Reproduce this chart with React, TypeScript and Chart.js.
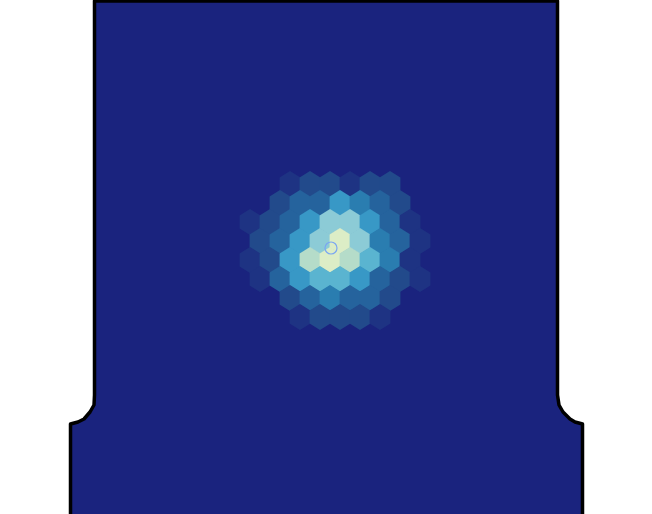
import React, { useEffect, useRef } from "react";
import { Chart, registerables } from "chart.js";

Chart.register(...registerables);

// Outline of the field shape (data units = pixels of the original figure)
const outlineX = [94.5, 557.5, 557.5, 559, 563, 570, 575, 582.5, 582.5, 70.5, 70.5, 78, 84, 90, 94, 94.5];
const outlineY = [1, 1, 395, 405, 412, 419, 422, 424, 530, 530, 424, 422, 419, 412, 405, 395];

// Hexbin grid: row centres, first column x, column spacing
const hexRowY = [184, 203, 222, 241, 260, 279, 298, 317];
const hexRowX0 = [290, 260, 250, 260, 250, 260, 290, 300];
const hexColStep = 20;
const hexRowLevels: number[][] = [
  [1, 2, 2, 1, 2, 2],
  [0, 2, 3, 3, 5, 4, 3, 2],
  [1, 2, 3, 5, 7, 7, 5, 3, 1],
  [2, 3, 5, 7, 9, 7, 4, 3, 1],
  [1, 2, 5, 8, 9, 8, 6, 4, 1],
  [1, 3, 5, 6, 6, 5, 3, 2, 1],
  [2, 3, 4, 3, 3, 2],
  [1, 2, 2, 2, 1],
];
const levelColors = [
  "rgba(0,0,0,0)",
  "#1e3383",
  "#224a8b",
  "#25639d",
  "#2a7db0",
  "#3898c6",
  "#5ab4d0",
  "#8ccbd6",
  "#b5dcc9",
  "#dcedc6",
];
const hexHalfWidth = 10;
const hexRadiusY = 12.7;

// Marker
const markerX = [331];
const markerY = [248];

const fieldColor = "#1a237e";

export default function App() {
  const ref = useRef<HTMLCanvasElement | null>(null);
  useEffect(() => {
    if (!ref.current) return;
    const hexData: { x: number; y: number; v: number }[] = [];
    hexRowLevels.forEach((row, r) => {
      row.forEach((v, c) => {
        hexData.push({ x: hexRowX0[r] + c * hexColStep, y: hexRowY[r], v });
      });
    });
    const outline = outlineX.map((x, i) => ({ x, y: outlineY[i] }));

    const shapePlugin = {
      id: "shapePlugin",
      beforeDatasetsDraw(chart: any) {
        const ctx = chart.ctx;
        const xs = chart.scales.x;
        const ys = chart.scales.y;
        ctx.save();
        // field fill
        ctx.beginPath();
        outline.forEach((p, i) => {
          const px = xs.getPixelForValue(p.x);
          const py = ys.getPixelForValue(p.y);
          if (i === 0) ctx.moveTo(px, py);
          else ctx.lineTo(px, py);
        });
        ctx.closePath();
        ctx.fillStyle = fieldColor;
        ctx.fill();
        // hexes
        hexData.forEach((h) => {
          if (h.v <= 0) return;
          const cx = xs.getPixelForValue(h.x);
          const cy = ys.getPixelForValue(h.y);
          const hw = Math.abs(xs.getPixelForValue(h.x + hexHalfWidth) - cx) + 0.4;
          const ry = Math.abs(ys.getPixelForValue(h.y + hexRadiusY) - cy) + 0.4;
          ctx.beginPath();
          ctx.moveTo(cx, cy - ry);
          ctx.lineTo(cx + hw, cy - ry / 2);
          ctx.lineTo(cx + hw, cy + ry / 2);
          ctx.lineTo(cx, cy + ry);
          ctx.lineTo(cx - hw, cy + ry / 2);
          ctx.lineTo(cx - hw, cy - ry / 2);
          ctx.closePath();
          ctx.fillStyle = levelColors[h.v];
          ctx.fill();
        });
        // outline stroke
        ctx.beginPath();
        outline.forEach((p, i) => {
          const px = xs.getPixelForValue(p.x);
          const py = ys.getPixelForValue(p.y);
          if (i === 0) ctx.moveTo(px, py);
          else ctx.lineTo(px, py);
        });
        ctx.closePath();
        ctx.strokeStyle = "#000000";
        ctx.lineWidth = 3.5;
        ctx.lineJoin = "round";
        ctx.stroke();
        ctx.restore();
      },
    };

    const chart = new Chart(ref.current, {
      type: "scatter",
      data: {
        datasets: [
          {
            label: "hexes",
            data: hexData,
            pointRadius: 0,
            pointHoverRadius: 0,
          },
          {
            label: "marker",
            data: markerX.map((x, i) => ({ x, y: markerY[i] })),
            pointRadius: 6,
            pointBorderWidth: 1.2,
            pointBackgroundColor: "rgba(0,0,0,0)",
            pointBorderColor: "#7aa6f2",
          },
        ],
      },
      options: {
        animation: false,
        responsive: true,
        maintainAspectRatio: false,
        layout: { padding: 0, autoPadding: false },
        plugins: { legend: { display: false }, tooltip: { enabled: false } },
        scales: {
          x: { type: "linear", min: 0, max: 652, display: false },
          y: { type: "linear", min: 0, max: 514, reverse: true, display: false },
        },
      },
      plugins: [shapePlugin],
    });
    return () => chart.destroy();
  }, []);
  return (
    <div style={{ position: "fixed", left: 0, top: 0, width: 652, height: 514, background: "#ffffff" }}>
      <canvas ref={ref} />
    </div>
  );
}
